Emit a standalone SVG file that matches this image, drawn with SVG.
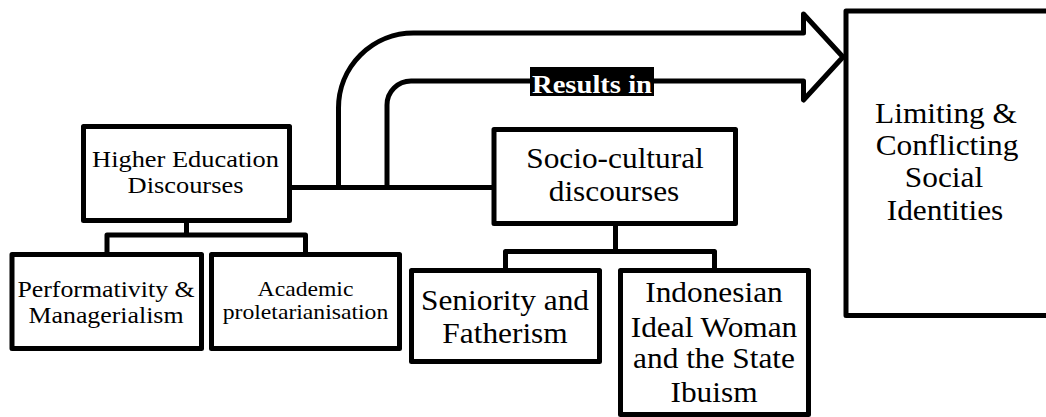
<svg xmlns="http://www.w3.org/2000/svg" width="1046" height="417" viewBox="0 0 1046 417" font-family="Liberation Serif, serif">
  <style>
    .box { fill: #ffffff; stroke: #000000; stroke-width: 5; stroke-linejoin: round; }
    .line { fill: none; stroke: #000000; stroke-width: 5; stroke-linejoin: round; }
    text { font-family: "Liberation Serif", "Times New Roman", serif; fill: #000000; text-anchor: middle; }
    .s21 { font-size: 21.5px; }
    .s24 { font-size: 24px; }
    .s23 { font-size: 23.5px; }
    .s28 { font-size: 28.5px; }
    .lbl { font-weight: bold; font-size: 26px; fill: #ffffff; }
  </style>

  <rect width="1046" height="417" fill="#ffffff"/>

  <!-- connectors -->
  <g id="connectors">
    <!-- link between the two discourse boxes -->
    <path class="line" d="M290 187.5 H494"/>
    <!-- block arrow towards the identities box -->
    <path class="line" d="M338.5 187.5 V108 A75 75 0 0 1 413.5 33 H803.5 V14 L843 57 L803.5 100 V81 H411 A24 24 0 0 0 387 105 V187.5"/>
    <!-- higher education sub-tree -->
    <path class="line" d="M186.5 222 V235 M107 256 V235 H305.5 V256"/>
    <!-- socio-cultural sub-tree -->
    <path class="line" d="M615.5 225 V251.5 M505.5 270 V251.5 H714.5 V270"/>
  </g>

  <!-- text is drawn slightly widened (scale 1.1 horizontally) -->
  <g id="label-results">
    <rect x="530" y="67" width="124" height="29" fill="#000000"/>
    <text class="lbl" transform="translate(592 93) scale(1.1 1)">Results in</text>
  </g>

  <g id="higher-education">
    <rect class="box" x="83.5" y="126.5" width="206" height="94"/>
    <text class="s24" transform="translate(185.5 167) scale(1.1 1)">Higher Education</text>
    <text class="s24" transform="translate(185.5 193) scale(1.1 1)">Discourses</text>
  </g>

  <g id="performativity">
    <rect class="box" x="12" y="254.5" width="189.5" height="94"/>
    <text class="s23" transform="translate(106 297) scale(1.1 1)">Performativity &amp;</text>
    <text class="s23" transform="translate(106 323) scale(1.1 1)">Managerialism</text>
  </g>

  <g id="proletarianisation">
    <rect class="box" x="211.5" y="254.5" width="188" height="94"/>
    <text class="s21" transform="translate(305.5 296) scale(1.1 1)">Academic</text>
    <text class="s21" transform="translate(305.5 319) scale(1.1 1)">proletarianisation</text>
  </g>

  <g id="socio-cultural">
    <rect class="box" x="494" y="129.5" width="241.5" height="94"/>
    <text class="s28" transform="translate(615 168) scale(1.1 1)">Socio-cultural</text>
    <text class="s28" transform="translate(614 201) scale(1.1 1)">discourses</text>
  </g>

  <g id="seniority">
    <rect class="box" x="411.5" y="270.5" width="188" height="91"/>
    <text class="s28" transform="translate(505 310) scale(1.1 1)">Seniority and</text>
    <text class="s28" transform="translate(505 343) scale(1.1 1)">Fatherism</text>
  </g>

  <g id="ibuism">
    <rect class="box" x="620.5" y="270.5" width="188" height="144"/>
    <text class="s28" transform="translate(714 302) scale(1.1 1)">Indonesian</text>
    <text class="s28" transform="translate(714 337) scale(1.1 1)">Ideal Woman</text>
    <text class="s28" transform="translate(714 368) scale(1.1 1)">and the State</text>
    <text class="s28" transform="translate(714 402) scale(1.1 1)">Ibuism</text>
  </g>

  <g id="identities">
    <rect class="box" x="846" y="11" width="230" height="304.5"/>
    <text class="s28" transform="translate(946 123) scale(1.1 1)">Limiting &amp;</text>
    <text class="s28" transform="translate(947 155) scale(1.1 1)">Conflicting</text>
    <text class="s28" transform="translate(944 187) scale(1.1 1)">Social</text>
    <text class="s28" transform="translate(945 220) scale(1.1 1)">Identities</text>
  </g>
</svg>
